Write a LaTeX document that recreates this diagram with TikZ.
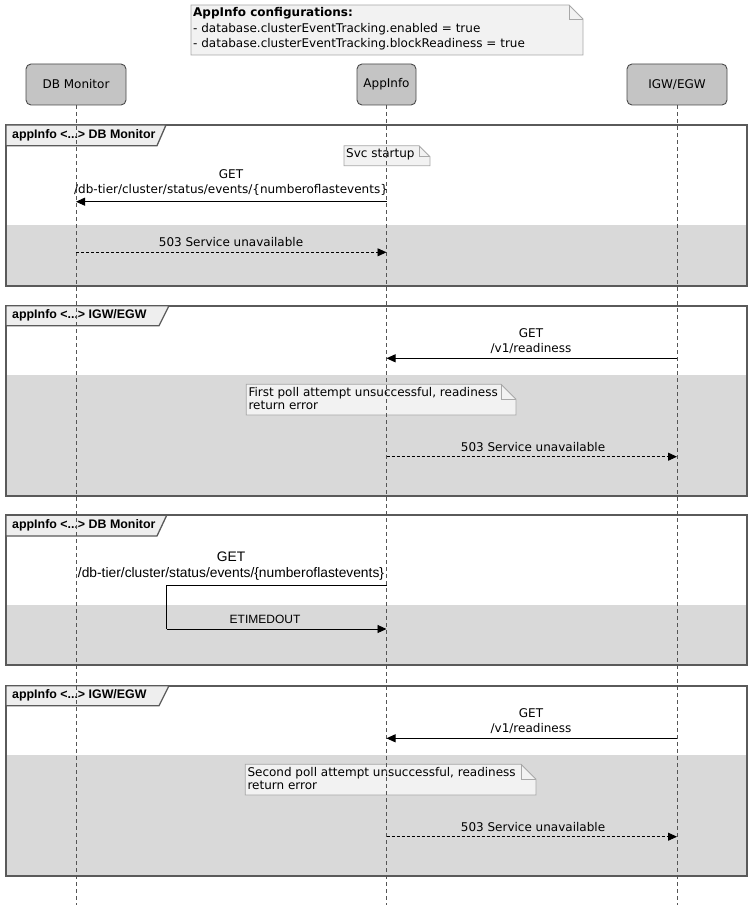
\documentclass[tikz,border=0pt]{standalone}
\usepackage{fontspec}
\setmainfont{Liberation Sans}
\newfontfamily\tah{DejaVu Sans}
\usetikzlibrary{arrows.meta}
\definecolor{partfill}{HTML}{C4C4C4}
\definecolor{partline}{HTML}{4A4A4A}
\definecolor{notefill}{HTML}{F2F2F2}
\definecolor{noteline}{HTML}{A8A8A8}
\definecolor{frameline}{HTML}{5A5A5A}
\definecolor{tabfill}{HTML}{EEEEEE}
\definecolor{bandgray}{HTML}{D9D9D9}
\definecolor{lifeline}{HTML}{555555}
\newcommand\mynote[8]{%
  \path[fill=notefill,draw=noteline,line width=0.8pt] (#2,#3) -- (#4-#7,#3) -- (#4,#3+#7) -- (#4,#5) -- (#2,#5) -- cycle;
  \draw[noteline,line width=0.8pt] (#4-#7,#3) -- (#4-#7,#3+#7) -- (#4,#3+#7);
  \node[notetext,anchor=north west,font=\tah\fontsize{12}{#8}\selectfont] (#1) at (#2,#3) {#6};%
}
\begin{document}
\begin{tikzpicture}[x=1pt,y=-1pt,
  part/.style={draw=partline,fill=partfill,rounded corners=5pt,line width=0.9pt,minimum height=41pt,inner sep=0pt,font=\tah\fontsize{12}{14}\selectfont},
  notetext/.style={align=left,inner xsep=2pt,inner ysep=2.5pt},
  lbl/.style={align=center,inner sep=0pt,font=\tah\fontsize{12}{15.5}\selectfont},
  lblA/.style={align=center,inner sep=0pt,font=\fontsize{13.8}{15.7}\selectfont},
  lblB/.style={align=center,inner sep=0pt,font=\fontsize{12}{14}\selectfont},
  msg/.style={line width=0.9pt,-{Triangle[length=9pt,width=8pt]}},
  reply/.style={msg,dash pattern=on 3pt off 2pt},
  life/.style={lifeline,line width=0.8pt,dash pattern=on 4pt off 3pt},
  frame/.style={draw=frameline,line width=2pt},
  tab/.style={fill=tabfill,draw=frameline,line width=1.3pt},
  tabtext/.style={anchor=west,inner sep=0pt,font=\bfseries\fontsize{12.4}{14}\selectfont}]
\useasboundingbox[fill=white] (0,0) rectangle (753,912);

% shaded regions
\fill[bandgray] (6,225) rectangle (747,285.7);
\fill[bandgray] (6,375) rectangle (747,495.7);
\fill[bandgray] (6,605.3) rectangle (747,665);
\fill[bandgray] (6,755) rectangle (747,875.7);

% frames
\draw[frame] (6,125) rectangle (747,285.7);
\draw[tab] (6,125) -- (166,125) -- (157,145.7) -- (6,145.7) -- cycle;
\node[tabtext] (t1) at (12,135.5) {appInfo <...> DB Monitor};

\draw[frame] (6,305.7) rectangle (747,495.7);
\draw[tab] (6,305.7) -- (169,305.7) -- (159,325.7) -- (6,325.7) -- cycle;
\node[tabtext] (t2) at (12,315.7) {appInfo <...> IGW/EGW};

\draw[frame] (6,515.3) rectangle (747,665);
\draw[tab] (6,515.3) -- (166.7,515.3) -- (157,536) -- (6,536) -- cycle;
\node[tabtext] (t3) at (12,525.7) {appInfo <...> DB Monitor};

\draw[frame] (6,685.7) rectangle (747,875.7);
\draw[tab] (6,685.7) -- (169,685.7) -- (159,705.7) -- (6,705.7) -- cycle;
\node[tabtext] (t4) at (12,695.7) {appInfo <...> IGW/EGW};

% notes
\mynote{cfg}{191}{5}{583}{55}{\textbf{AppInfo configurations:}\\- database.clusterEventTracking.enabled = true\\- database.clusterEventTracking.blockReadiness = true}{14}{15.3}
\mynote{svc}{344}{145.7}{430}{165.7}{Svc startup}{11}{14}
\mynote{n1}{246.3}{384.3}{516}{415}{First poll attempt unsuccessful, readiness\\return error}{15}{13.8}
\mynote{n2}{245.3}{764.3}{536}{795}{Second poll attempt unsuccessful, readiness\\return error}{15}{13.8}

% participants
\node[part,minimum width=100pt] (dbm) at (76,84.5) {DB Monitor};
\node[part,minimum width=59pt] (app) at (386.5,84.5) {AppInfo};
\node[part,minimum width=100pt] (gw) at (677,84.5) {IGW/EGW};

% lifelines
\coordinate (end) at (0,905);
\draw[life] (dbm.south) -- (dbm.south |- end);
\draw[life] (app.south) -- (app.south |- end);
\draw[life] (gw.south) -- (gw.south |- end);

% group 1
\draw[msg] (app.center |- 0,201.7) -- (dbm.center |- 0,201.7);
\node[lbl] (l1) at (231,182.4) {GET\\/db-tier/cluster/status/events/\{numberoflastevents\}};
\draw[reply] (dbm.center |- 0,252.3) -- (app.center |- 0,252.3);
\node[lbl] (l2) at (231,242) {503 Service unavailable};

% group 2
\draw[msg] (gw.center |- 0,358.3) -- (app.center |- 0,358.3);
\node[lbl] (l3) at (531,341.3) {GET\\/v1/readiness};
\draw[reply] (app.center |- 0,456.7) -- (gw.center |- 0,456.7);
\node[lbl] (l4) at (533,446.7) {503 Service unavailable};

% group 3
\coordinate (bend) at (166.7,585.7);
\draw[line width=0.9pt] (app.center |- 0,585.7) -- (bend) -- (bend |- 0,629);
\draw[msg] (bend |- 0,629) -- (app.center |- 0,629);
\node[lblA] (l5) at (231,566.2) {GET\\/db-tier/cluster/status/events/\{numberoflastevents\}};
\node[lblB] (l6) at (265,619.3) {ETIMEDOUT};

% group 4
\draw[msg] (gw.center |- 0,738.3) -- (app.center |- 0,738.3);
\node[lbl] (l7) at (531,721.3) {GET\\/v1/readiness};
\draw[reply] (app.center |- 0,836.7) -- (gw.center |- 0,836.7);
\node[lbl] (l8) at (533,826.7) {503 Service unavailable};
\end{tikzpicture}
\end{document}
